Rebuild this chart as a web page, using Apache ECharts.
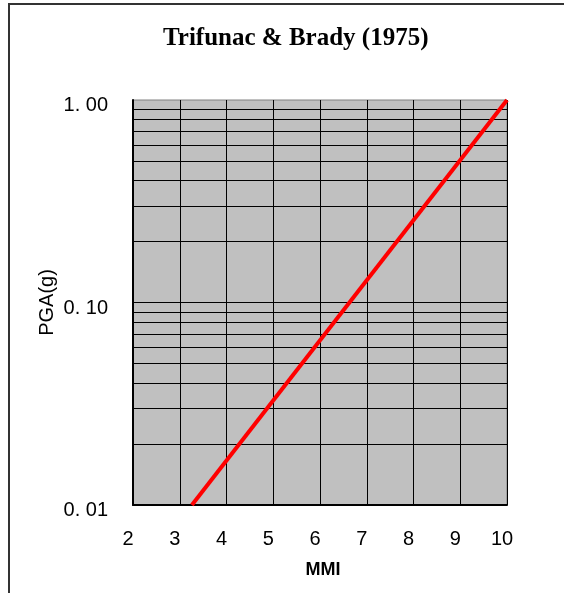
<!DOCTYPE html>
<html>
<head>
<meta charset="utf-8">
<script src="https://cdn.jsdelivr.net/npm/echarts@6/dist/echarts.min.js"></script>
<style>
html,body{margin:0;padding:0;background:#fff;}
#chart{width:564px;height:593px;}
</style>
</head>
<body>
<div id="chart"></div>
<script>
// ---- data ----
var titleText = 'Trifunac & Brady (1975)';
var xName = 'MMI';
var yName = 'PGA(g)';
var mmi = [3.26, 10];
var pga = [0.01, 1.0];
var yTickValues = [0.01, 0.1, 1];
var yTickLabels = ['0. 01', '0. 10', '1. 00'];
var hGridValues = [0.02, 0.03, 0.04, 0.05, 0.06, 0.07, 0.08, 0.09, 0.1,
                   0.2, 0.3, 0.4, 0.5, 0.6, 0.7, 0.8, 0.9];

var lineData = mmi.map(function (m, i) { return [m, pga[i]]; });

var chart = echarts.init(document.getElementById('chart'), null, {renderer: 'canvas'});
chart.setOption({
  animation: false,
  backgroundColor: '#ffffff',
  title: {
    text: titleText,
    left: 158,
    top: 21,
    textStyle: {fontFamily: 'Liberation Serif', fontWeight: 'bold', fontSize: 25, color: '#000'}
  },
  grid: {
    left: 133, right: 57, top: 100, bottom: 88,
    show: true, backgroundColor: '#C0C0C0', borderColor: '#808080', borderWidth: 1
  },
  xAxis: {
    type: 'value', min: 2, max: 10, interval: 1,
    name: xName, nameLocation: 'middle', nameGap: 56, nameMoveOverlap: false,
    nameTextStyle: {fontFamily: 'Liberation Sans', fontWeight: 'bold', fontSize: 18, color: '#000', padding: [0, 0, 0, 6]},
    axisLine: {show: true, lineStyle: {color: '#000', width: 2}},
    axisTick: {show: false},
    axisLabel: {fontFamily: 'Liberation Sans', fontSize: 20, color: '#000', margin: 24, padding: [0, 10, 0, 0]},
    splitLine: {show: true, lineStyle: {color: '#000', width: 1}}
  },
  yAxis: {
    type: 'log', logBase: 10, min: 0.01, max: 1,
    name: yName, nameLocation: 'middle', nameRotate: 90, nameGap: 76, nameMoveOverlap: false,
    nameTextStyle: {fontFamily: 'Liberation Sans', fontSize: 20, color: '#000'},
    axisLine: {show: true, lineStyle: {color: '#000', width: 2}},
    axisTick: {show: false},
    axisLabel: {
      fontFamily: 'Liberation Sans', fontSize: 20, color: '#000', margin: 25,
      verticalAlign: 'top', lineHeight: 11,
      formatter: function (v) {
        for (var i = 0; i < yTickValues.length; i++) {
          if (Math.abs(v - yTickValues[i]) < 1e-9) return yTickLabels[i];
        }
        return '';
      }
    },
    splitLine: {show: false}
  },
  graphic: [
    {type: 'line', shape: {x1: 8, y1: 4, x2: 564, y2: 4}, style: {stroke: '#333', lineWidth: 2}},
    {type: 'line', shape: {x1: 9, y1: 4, x2: 9, y2: 593}, style: {stroke: '#333', lineWidth: 2}}
  ],
  series: [{
    type: 'line',
    data: lineData,
    symbol: 'none',
    lineStyle: {color: '#FF0000', width: 4},
    z: 5,
    markLine: {
      silent: true,
      symbol: ['none', 'none'],
      label: {show: false},
      lineStyle: {color: '#000', width: 1, type: 'solid'},
      data: hGridValues.map(function (v) { return {yAxis: v}; }),
      z: 1
    }
  }]
});
</script>
</body>
</html>
